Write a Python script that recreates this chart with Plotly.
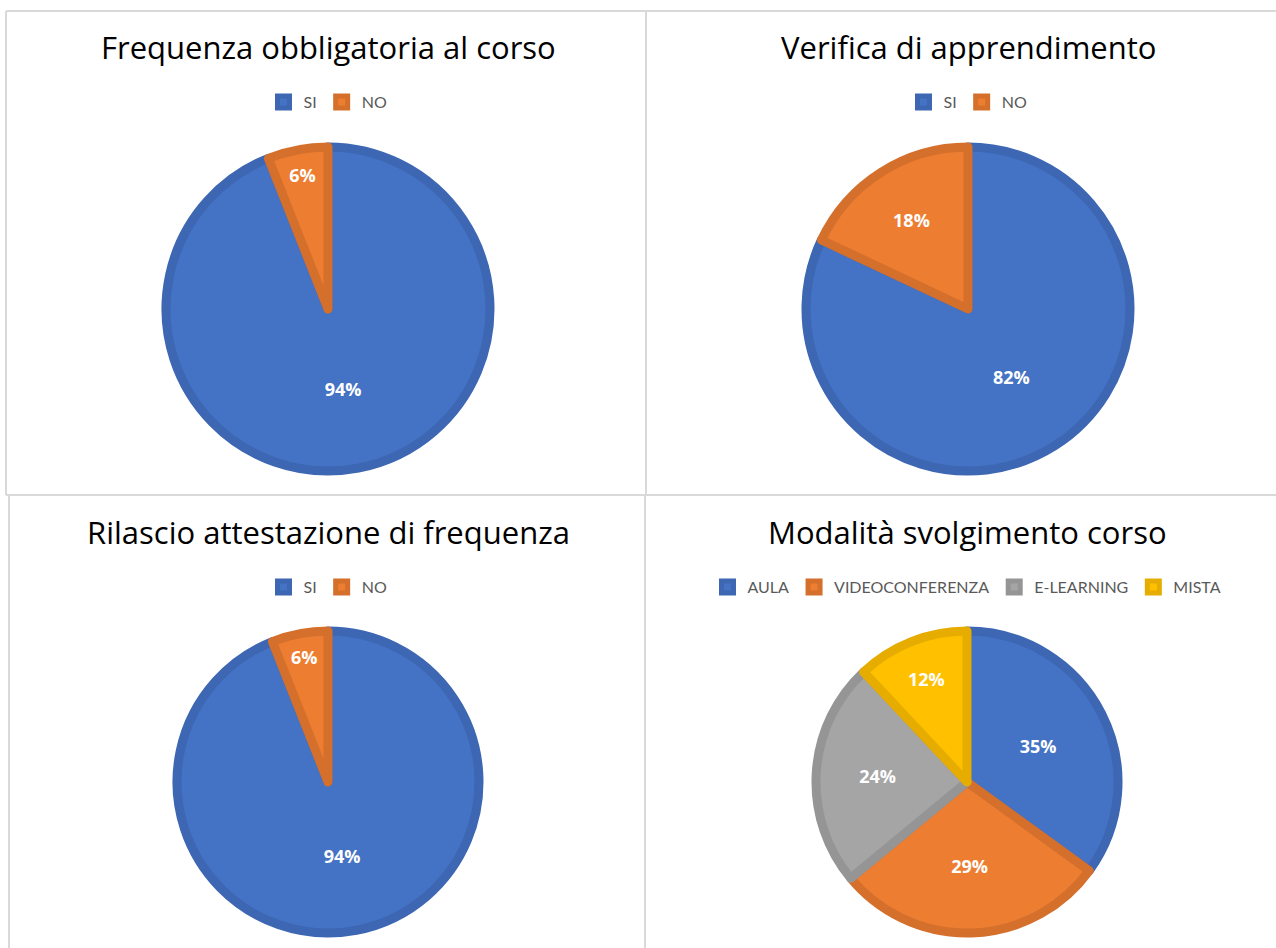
import plotly.graph_objects as go

W, H = 1276, 948

# ---- data ----
titles = ["Frequenza obbligatoria al corso", "Verifica di apprendimento",
          "Rilascio attestazione di frequenza", "Modalità svolgimento corso"]
yn_labels = ["SI", "NO"]
freq_values = [94, 6]
verifica_values = [82, 18]
rilascio_values = [94, 6]
mod_labels = ["AULA", "VIDEOCONFERENZA", "E-LEARNING", "MISTA"]
mod_values = [35, 29, 24, 12]

fill_colors = ["#4472C4", "#ED7D31", "#A5A5A5", "#FFC000"]
edge_colors = ["#3D66B3", "#D4702C", "#959595", "#E6AD00"]

FONT = "Lato"
TITLE_FONT = "Open Sans"

def px_x(x):
    return x / W

def px_y(y):
    return 1 - y / H

# panel layouts in pixels: (center x, center y, radius, title y, legend y)
panels = [
    (328, 309, 162, 47, 102),
    (968, 309, 162, 47, 102),
    (328, 782, 151, 532, 587),
    (967, 782, 151, 532, 587),
]
series = [
    (yn_labels, freq_values),
    (yn_labels, verifica_values),
    (yn_labels, rilascio_values),
    (mod_labels, mod_values),
]

fig = go.Figure()
layout_legends = {}
annotations = []
for i, ((cx, cy, r, ty, ly), (labs, vals), title) in enumerate(zip(panels, series, titles)):
    lname = "legend" if i == 0 else f"legend{i+1}"
    n = len(labs)
    # zero-width suffix keeps each chart's legend entries independent
    shown_labels = [lab + "\u200b" * i for lab in labs]
    fig.add_trace(go.Pie(
        labels=shown_labels, values=vals, sort=False, direction="clockwise", rotation=0,
        marker=dict(colors=fill_colors[:n], line=dict(color=edge_colors[:n], width=9)),
        texttemplate="%{percent:.0%}", textposition="inside",
        insidetextorientation="horizontal",
        textfont=dict(family="Open Sans", size=18, color="white", weight="bold"),
        domain=dict(x=[px_x(cx - r), px_x(cx + r)], y=[px_y(cy + r), px_y(cy - r)]),
        legend=lname, hoverinfo="label+percent",
    ))
    layout_legends[lname] = dict(
        orientation="h", x=px_x(cx), y=px_y(ly), xanchor="center", yanchor="middle",
        font=dict(family=FONT, size=16, color="#595959"),
        bgcolor="rgba(0,0,0,0)", itemwidth=30, traceorder="normal",
    )
    annotations.append(dict(
        text=title, x=px_x(cx), y=px_y(ty), xref="paper", yref="paper",
        xanchor="center", yanchor="middle", showarrow=False,
        font=dict(family=TITLE_FONT, size=31, color="#000000"),
    ))

line_col = "#D9D9D9"
shapes = []
def seg(x0, y0, x1, y1):
    shapes.append(dict(type="line", xref="paper", yref="paper",
                       x0=px_x(x0), y0=px_y(y0), x1=px_x(x1), y1=px_y(y1),
                       line=dict(color=line_col, width=2)))

seg(6, 11, 1276, 11)
seg(6, 495, 1276, 495)
seg(6, 11, 6, 495)
seg(9, 495, 9, 948)
seg(646, 11, 646, 495)
seg(645, 495, 645, 948)

fig.update_layout(
    width=W, height=H, margin=dict(l=0, r=0, t=0, b=0),
    paper_bgcolor="white", plot_bgcolor="white",
    showlegend=True, annotations=annotations, shapes=shapes,
    **layout_legends,
)

fig.write_html("out.html", config={"displayModeBar": False},
               post_script="document.body.style.margin='0';document.body.style.overflow='hidden';")
